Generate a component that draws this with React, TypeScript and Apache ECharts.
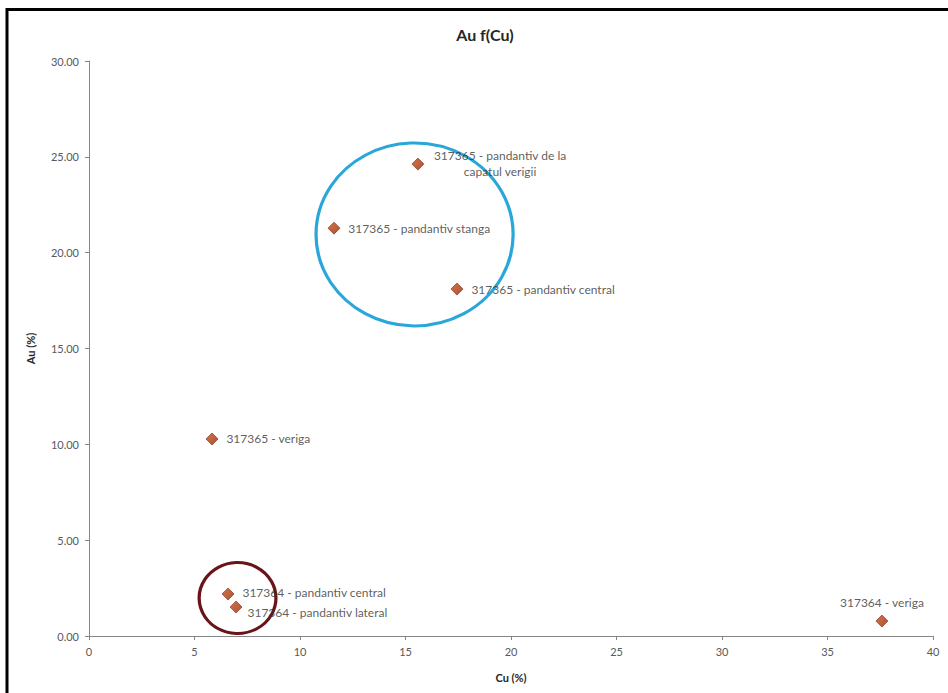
import React, { useEffect, useRef } from "react";
import * as echarts from "echarts";

const sampleNames: string[] = [
  "317365 - pandantiv de la\ncapatul verigii",
  "317365 - pandantiv stanga",
  "317365 - pandantiv central",
  "317365 - veriga",
  "317364 - pandantiv central",
  "317364 - pandantiv lateral",
  "317364 - veriga",
];
const cuValues: number[] = [15.59, 11.61, 17.44, 5.83, 6.59, 6.97, 37.58];
const auValues: number[] = [24.62, 21.28, 18.1, 10.28, 2.19, 1.51, 0.78];

// highlight ellipses: [centerCu, centerAu, radiusCu, radiusAu]
const ellipseBlue: number[] = [15.43, 20.95, 4.67, 4.77];
const ellipseRed: number[] = [7.04, 1.98, 1.82, 1.85];

const xTicks = { min: 0, max: 40, interval: 5 };
const yTicks = { min: 0, max: 30, interval: 5 };

const FONT = "Lato, 'Open Sans', sans-serif";

const labelStyles: any[] = [
  { position: [88.5, 5.5], align: "center", verticalAlign: "middle", lineHeight: 16 },
  { position: "right", distance: 8 },
  { position: "right", distance: 8 },
  { position: "right", distance: 8 },
  { position: "right", distance: 8, offset: [0, -2] },
  { position: "right", distance: 5, offset: [0, 5] },
  { position: "top", distance: 6 },
];

export default function App() {
  const ref = useRef<HTMLDivElement>(null);
  useEffect(() => {
    const chart = echarts.init(ref.current!, undefined, { renderer: "svg" });
    const points = sampleNames.map((n, i) => ({
      name: n,
      value: [cuValues[i], auValues[i]],
      label: { show: true, ...labelStyles[i] },
    }));
    const ellipseRender = (color: string) => (params: any, api: any) => {
      const c = api.coord([api.value(0), api.value(1)]);
      const s = api.size([api.value(2), api.value(3)]);
      return {
        type: "circle",
        x: c[0],
        y: c[1],
        scaleX: s[0] / s[1],
        shape: { cx: 0, cy: 0, r: s[1] },
        style: { fill: "none", stroke: color, lineWidth: 3, strokeNoScale: true },
        silent: true,
      };
    };
    chart.setOption({
      animation: false,
      backgroundColor: "#ffffff",
      textStyle: { fontFamily: FONT },
      title: {
        text: "Au f(Cu)",
        left: 480,
        top: 21,
        textAlign: "center",
        textStyle: { fontFamily: FONT, fontSize: 16, fontWeight: "bold", color: "#262626" },
      },
      graphic: [
        {
          type: "rect",
          shape: { x: 7, y: 9.5, width: 960, height: 720 },
          style: { fill: "none", stroke: "#000", lineWidth: 3 },
          silent: true,
        },
      ],
      grid: { left: 89, right: 15, top: 61, bottom: 57, containLabel: false },
      xAxis: {
        type: "value",
        ...xTicks,
        name: "Cu (%)",
        nameLocation: "middle",
        nameGap: 36,
        nameTextStyle: { fontFamily: FONT, fontSize: 11, fontWeight: "bold", color: "#262626" },
        splitLine: { show: false },
        axisLine: { show: true, onZero: false, lineStyle: { color: "#868686", width: 1 } },
        axisTick: { show: true, length: 4, lineStyle: { color: "#868686" } },
        axisLabel: { fontFamily: FONT, fontSize: 11, color: "#595959", margin: 10 },
      },
      yAxis: {
        type: "value",
        ...yTicks,
        name: "Au (%)",
        nameLocation: "middle",
        nameGap: 53,
        nameRotate: 90,
        nameTextStyle: { fontFamily: FONT, fontSize: 11, fontWeight: "bold", color: "#262626" },
        splitLine: { show: false },
        axisLine: { show: true, onZero: false, lineStyle: { color: "#868686", width: 1 } },
        axisTick: { show: true, length: 4, lineStyle: { color: "#868686" } },
        axisLabel: {
          fontFamily: FONT,
          fontSize: 11,
          color: "#595959",
          margin: 10,
          formatter: (v: number) => v.toFixed(2),
        },
      },
      series: [
        {
          type: "custom",
          renderItem: ellipseRender("#2aa7d9"),
          data: [ellipseBlue],
          z: 1,
          silent: true,
        },
        {
          type: "custom",
          renderItem: ellipseRender("#6a1419"),
          data: [ellipseRed],
          z: 1,
          silent: true,
        },
        {
          type: "scatter",
          symbol: "diamond",
          symbolSize: 12,
          z: 3,
          itemStyle: {
            color: new echarts.graphic.LinearGradient(0, 0, 1, 1, [
              { offset: 0, color: "#cf4e17" },
              { offset: 1, color: "#8f2a08" },
            ]),
            borderColor: "#7c2a0c",
            borderWidth: 0.8,
          },
          label: {
            show: true,
            fontFamily: FONT,
            fontSize: 12,
            color: "#333333",
            formatter: (p: any) => p.name,
          },
          data: points,
        },
      ],
    });
    return () => chart.dispose();
  }, []);
  return (
    <div
      ref={ref}
      style={{ position: "fixed", left: 0, top: 0, width: 948, height: 693, background: "#fff" }}
    />
  );
}
